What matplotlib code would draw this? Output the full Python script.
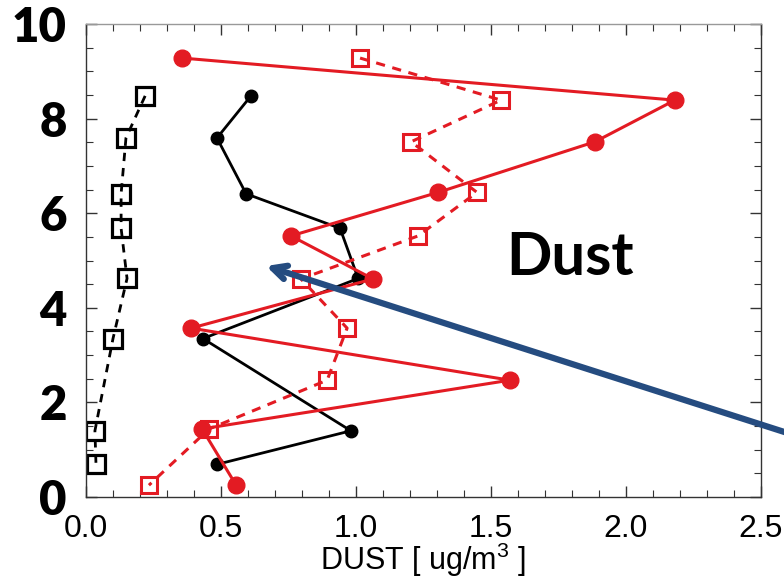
import matplotlib
matplotlib.use('Agg')
from matplotlib import pyplot as plt
from matplotlib.ticker import MultipleLocator

# black series
y_black = [8.48, 7.59, 6.41, 5.68, 4.62, 3.35, 1.40, 0.69]
x_black_sq = [0.219, 0.148, 0.130, 0.130, 0.152, 0.100, 0.033, 0.037]
x_black_dot = [0.611, 0.485, 0.593, 0.941, 1.008, 0.433, 0.981, 0.485]

# red series
y_red = [9.28, 8.39, 7.51, 6.44, 5.52, 4.61, 3.57, 2.47, 1.44, 0.25]
x_red_dot = [0.356, 2.181, 1.885, 1.304, 0.759, 1.063, 0.389, 1.570, 0.430, 0.556]
x_red_sq = [1.015, 1.537, 1.204, 1.448, 1.230, 0.796, 0.967, 0.893, 0.456, 0.233]

xticks = [0.0, 0.5, 1.0, 1.5, 2.0, 2.5]
xticklabels = ['0.0', '0.5', '1.0', '1.5', '2.0', '2.5']
yticks = [0, 2, 4, 6, 8, 10]

plt.rcParams['mathtext.default'] = 'regular'
plt.rcParams['font.family'] = ['Liberation Sans', 'DejaVu Sans']

fig = plt.figure(figsize=(7.84, 5.78), dpi=100)
ax = fig.add_axes([0.1097, 0.1401, 0.8610, 0.8184])

red = '#e31b23'
ax.plot(x_black_sq, y_black, color='black', ls=(0, (3, 2.5)), lw=2.0,
        marker='s', ms=13, mfc='none', mec='black', mew=2.3)
ax.plot(x_black_dot, y_black, color='black', lw=2.0,
        marker='o', ms=9, mfc='black', mec='black')
ax.plot(x_red_sq, y_red, color=red, ls=(0, (3, 2.5)), lw=2.2,
        marker='s', ms=11, mfc='none', mec=red, mew=2.2)
ax.plot(x_red_dot, y_red, color=red, lw=2.2,
        marker='o', ms=12, mfc=red, mec=red)

ax.set_xlim(0, 2.5)
ax.set_ylim(0, 10)
ax.set_xticks(xticks)
ax.set_xticklabels(xticklabels)
ax.set_yticks(yticks)
ax.xaxis.set_minor_locator(MultipleLocator(0.1))
ax.yaxis.set_minor_locator(MultipleLocator(0.5))
ax.tick_params(which='both', direction='in', top=True, right=True, color='#333333')
ax.tick_params(which='major', length=8, width=1)
ax.tick_params(which='minor', length=5, width=0.8)
ax.tick_params(axis='x', which='major', labelsize=23, pad=12)
ax.tick_params(axis='y', which='major', pad=14)
for lab in ax.get_yticklabels():
    lab.set_fontfamily(['Lato', 'DejaVu Sans'])
    lab.set_fontweight('heavy')
    lab.set_fontsize(34)
for sp in ax.spines.values():
    sp.set_color('#333333')
    sp.set_linewidth(1.0)
ax.spines['top'].set_color('#999999')

ax.set_xlabel(r'DUST [ ug/m$^{3}$ ]', fontsize=22, labelpad=-2)

ax.text(570, 320, 'Dust', transform=None, fontsize=43, fontweight='bold',
        family=['Lato', 'DejaVu Sans'], ha='center', va='center')

# blue arrow pointing at the profiles
ax.annotate('', xy=(266, 312), xycoords='figure pixels',
            xytext=(800, 141), textcoords='figure pixels',
            arrowprops=dict(arrowstyle='->, head_length=1.0, head_width=0.5',
                            color='#254c80', lw=4.5, shrinkA=0, shrinkB=0),
            annotation_clip=False)

fig.savefig('out.png', dpi=100)
